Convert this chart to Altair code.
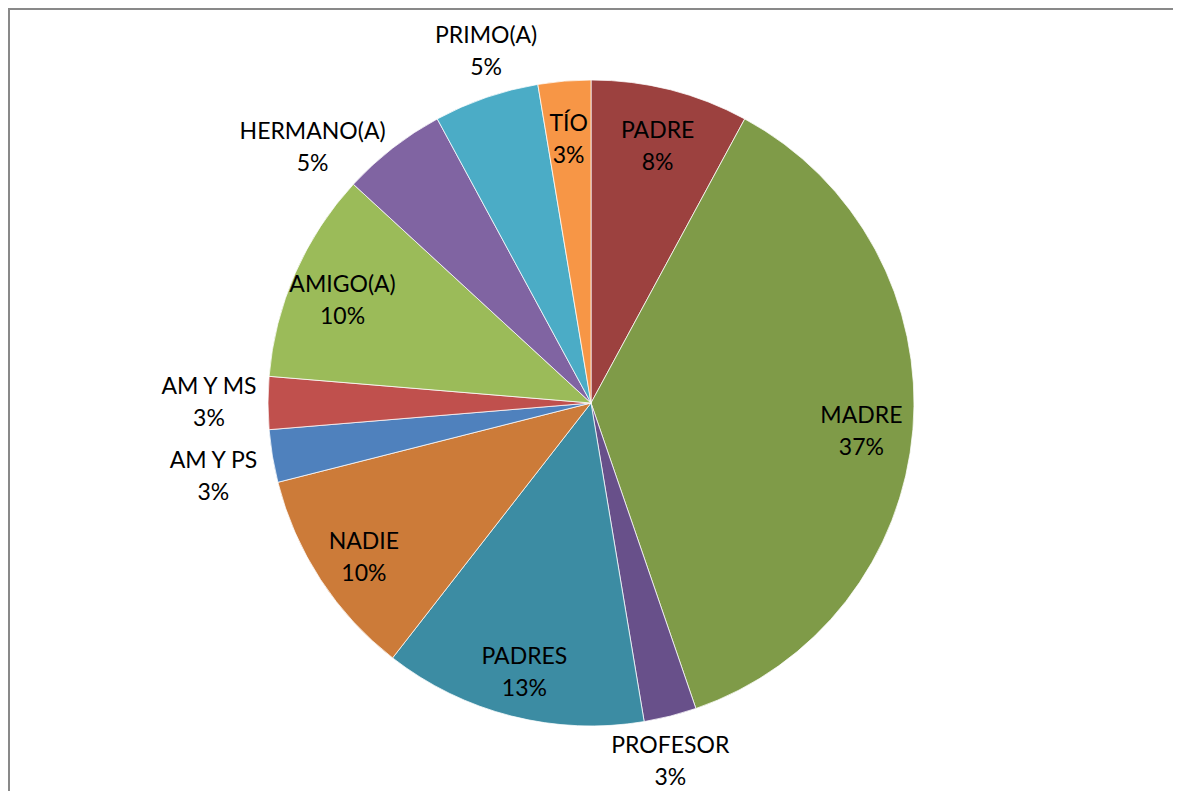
import altair as alt
import pandas as pd

# Data (clockwise from 12 o'clock)
categories = ["PADRE", "MADRE", "PROFESOR", "PADRES", "NADIE", "AM Y PS",
              "AM Y MS", "AMIGO(A)", "HERMANO(A)", "PRIMO(A)", "TÍO"]
counts = [3, 14, 1, 5, 4, 1, 1, 4, 2, 2, 1]
pct_labels = ["8%", "37%", "3%", "13%", "10%", "3%", "3%", "10%", "5%", "5%", "3%"]
placement = ["inside", "inside", "outside", "inside", "inside", "outside",
             "outside", "inside", "outside", "outside", "inside"]
colors = ["#9C413F", "#7F9B48", "#68508A", "#3C8CA3", "#CC7B39", "#4F81BD",
          "#C0504D", "#9BBB59", "#8064A2", "#4BACC6", "#F79646"]

df = pd.DataFrame({
    "cat": categories,
    "n": counts,
    "pct": pct_labels,
    "place": placement,
    "idx": list(range(len(categories))),
})
TOTAL = sum(counts)

W, H = 1165, 783
CX, CY, R = 583, 395, 323
LINE_H = 32          # distance between the two label lines
GAP_H = 10           # horizontal gap between pie edge and outside label box
GAP_V = 14           # vertical gap between pie edge and outside label box
BOX_H = 2 * LINE_H   # height of a two-line label box
IN_DY = 7            # slight downward shift of inside labels

pie = alt.Chart(df).mark_arc(radius=R, stroke="#ffffff", strokeWidth=0.75).encode(
    theta=alt.Theta("n:Q", stack=True),
    order=alt.Order("idx:Q", sort="ascending"),
    color=alt.Color("cat:N", scale=alt.Scale(domain=categories, range=colors), legend=None),
    x=alt.value(CX),
    y=alt.value(CY),
)

labels = alt.Chart(df).transform_window(
    cum="sum(n)", sort=[alt.SortField("idx", order="ascending")], frame=[None, 0]
).transform_calculate(
    a=f"2 * PI * (datum.cum - datum.n / 2) / {TOTAL}",
).transform_calculate(
    s="sin(datum.a)",
    c="cos(datum.a)",
    hw="length(datum.cat) * 7.0",
).transform_calculate(
    cx0=(f"datum.place == 'inside' ? 0.84 * {R} * datum.s : "
         f"(abs(datum.s) > 0.5 ? {R} * datum.s + (datum.s > 0 ? 1 : -1) * ({GAP_H} + datum.hw) "
         f": {R} * datum.s)"),
    cy0=(f"datum.place == 'inside' ? -0.84 * {R} * datum.c + {IN_DY} : "
         f"(abs(datum.s) > 0.5 ? -{R} * datum.c "
         f": -{R} * datum.c - (datum.c > 0 ? 1 : -1) * ({GAP_V} + {LINE_H}))"),
).transform_window(
    ncy="lead(cy0)", nplace="lead(place)", ns="lead(s)",
    sort=[alt.SortField("idx", order="ascending")],
).transform_calculate(
    cy=(f"(datum.place == 'outside' && datum.nplace == 'outside' && abs(datum.s) > 0.5 "
        f"&& datum.ns * datum.s > 0 && abs(datum.cy0 - datum.ncy) < {BOX_H + 10}) "
        f"? datum.ncy + (datum.s < 0 ? 1 : -1) * {BOX_H + 10} : datum.cy0"),
).transform_calculate(
    px=f"{CX} + datum.cx0",
    py=f"{CY} + datum.cy - {LINE_H / 2}",
    label="datum.cat + '\\n' + datum.pct",
).mark_text(
    font="Lato", fontSize=23, lineBreak="\n", lineHeight=LINE_H,
    align="center", baseline="middle", color="#000000",
).encode(
    x=alt.X("px:Q", scale=None),
    y=alt.Y("py:Q", scale=None),
    text="label:N",
)

frame_top = alt.Chart(df).mark_rule(color="#898989", strokeWidth=2).encode(
    x=alt.value(0), x2=alt.value(W), y=alt.value(1)
)
frame_left = alt.Chart(df).mark_rule(color="#898989", strokeWidth=2).encode(
    x=alt.value(1), y=alt.value(0), y2=alt.value(H)
)

chart = alt.layer(pie, labels, frame_top, frame_left).properties(
    width=W, height=H, autosize=alt.AutoSizeParams(type="none"), padding=0,
).configure_view(stroke=None)

chart.save("out.html", embed_options={"renderer": "svg", "actions": False})
